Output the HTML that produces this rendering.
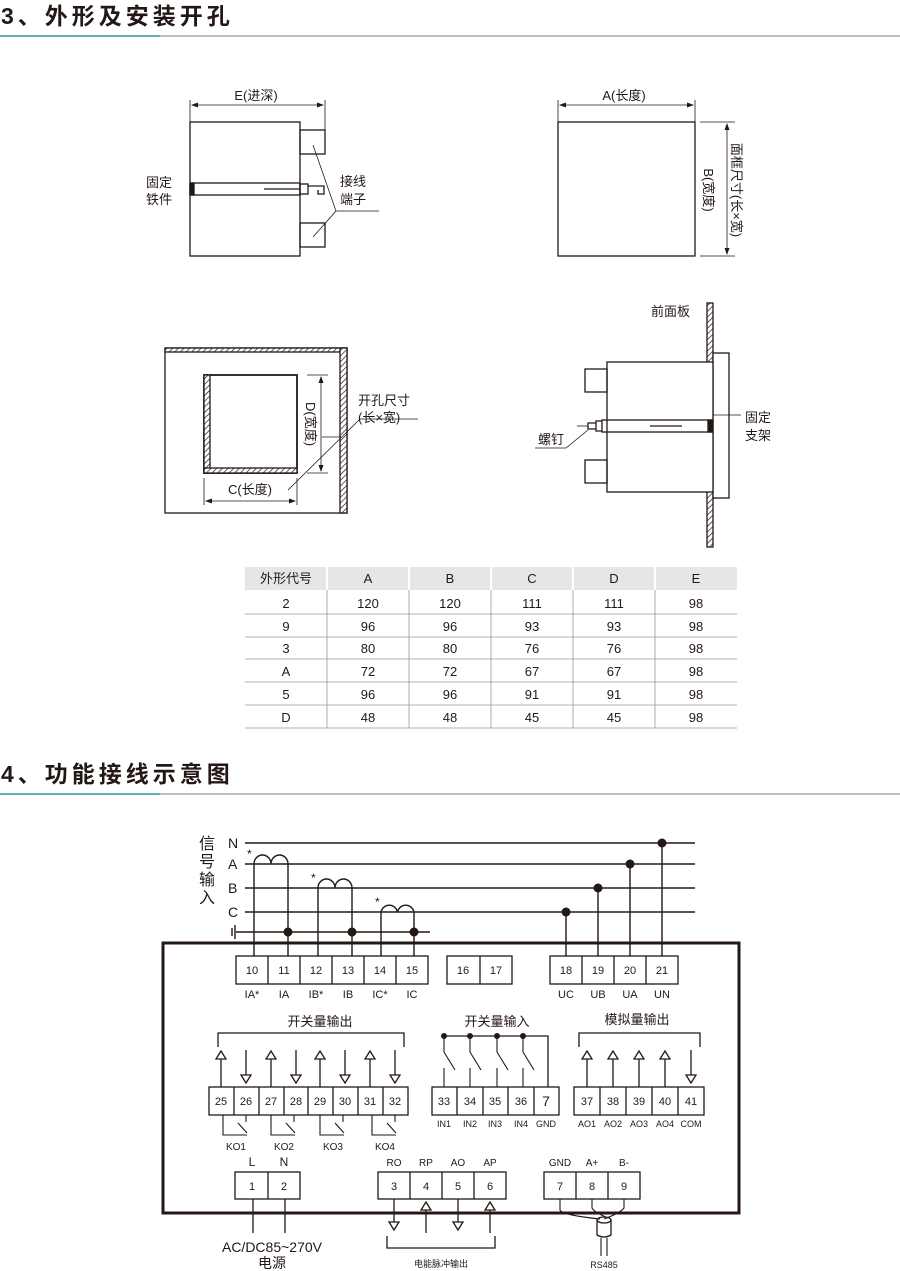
<!DOCTYPE html>
<html><head><meta charset="utf-8"><style>
html,body{margin:0;padding:0;background:#fff}
svg{display:block}
text{font-family:"Liberation Sans","Noto Sans CJK SC",sans-serif;fill:#231815}
</style></head><body>
<svg width="900" height="1271" viewBox="0 0 900 1271" xmlns="http://www.w3.org/2000/svg">
<defs>
<pattern id="h" width="4" height="4" patternUnits="userSpaceOnUse" patternTransform="rotate(45)"><rect width="4" height="4" fill="#fff"/><line x1="0" y1="0" x2="0" y2="4" stroke="#231815" stroke-width="1.4"/></pattern>
</defs>
<g stroke="#231815" fill="none" stroke-width="1.3">
<!-- headers -->
<text x="1" y="24" font-size="23" font-weight="bold" letter-spacing="4" stroke="none">3、外形及安装开孔</text>
<line x1="0" y1="36" x2="160" y2="36" stroke="#2a9a9a" stroke-width="1.5"/>
<line x1="160" y1="36" x2="900" y2="36" stroke="#999" stroke-width="1.2"/>
<text x="1" y="782" font-size="23" font-weight="bold" letter-spacing="4" stroke="none">4、功能接线示意图</text>
<line x1="0" y1="794" x2="160" y2="794" stroke="#2a9a9a" stroke-width="1.5"/>
<line x1="160" y1="794" x2="900" y2="794" stroke="#999" stroke-width="1.2"/>

<!-- top left -->
<rect x="190" y="122" width="110" height="134"/>
<rect x="300" y="130" width="25" height="24"/>
<rect x="300" y="223" width="25" height="24"/>
<rect x="190" y="183" width="110" height="12"/>
<rect x="190" y="183" width="4" height="12" fill="#231815"/>
<line x1="264" y1="189" x2="300" y2="189"/>
<rect x="300" y="184" width="8" height="10"/>
<path d="M308 186h16v8h-6v-4"/>
<line x1="190" y1="100" x2="190" y2="122" stroke-width="0.8"/>
<line x1="325" y1="100" x2="325" y2="130" stroke-width="0.8"/>
<line x1="192" y1="105" x2="323" y2="105" stroke-width="0.8"/>
<path d="M191 105l7-2.5v5z M324 105l-7-2.5v5z" fill="#231815" stroke="none"/>
<text x="256" y="100" font-size="13" text-anchor="middle" stroke="none">E(进深)</text>
<text x="146" y="187" font-size="13" stroke="none">固定</text>
<text x="146" y="204" font-size="13" stroke="none">铁件</text>
<text x="340" y="186" font-size="13" stroke="none">接线</text>
<text x="340" y="204" font-size="13" stroke="none">端子</text>
<path d="M313 145L336 211L313 237 M336 211H379" stroke-width="0.8"/>

<!-- top right -->
<rect x="558" y="122" width="137" height="134"/>
<line x1="558" y1="100" x2="558" y2="122" stroke-width="0.8"/>
<line x1="695" y1="100" x2="695" y2="122" stroke-width="0.8"/>
<line x1="560" y1="105" x2="693" y2="105" stroke-width="0.8"/>
<path d="M559 105l7-2.5v5z M694 105l-7-2.5v5z" fill="#231815" stroke="none"/>
<text x="624" y="100" font-size="13" text-anchor="middle" stroke="none">A(长度)</text>
<line x1="700" y1="122" x2="735" y2="122" stroke-width="0.8"/>
<line x1="700" y1="256" x2="735" y2="256" stroke-width="0.8"/>
<line x1="727" y1="124" x2="727" y2="254" stroke-width="0.8"/>
<path d="M727 123l-2.5 7h5z M727 255l-2.5-7h5z" fill="#231815" stroke="none"/>
<text transform="translate(704,190) rotate(90)" font-size="13" text-anchor="middle" stroke="none">B(宽度)</text>
<text transform="translate(732,190) rotate(90)" font-size="13" text-anchor="middle" stroke="none">面框尺寸(长×宽)</text>

<!-- middle left -->
<rect x="165" y="348" width="182" height="165"/>
<rect x="165" y="348" width="182" height="4" fill="url(#h)"/>
<rect x="340" y="348" width="7" height="165" fill="url(#h)"/>
<rect x="204" y="375" width="93" height="98" stroke-width="1.8"/>
<rect x="204" y="375" width="6" height="98" fill="url(#h)"/>
<rect x="204" y="468" width="93" height="5" fill="url(#h)"/>
<line x1="307" y1="375" x2="328" y2="375" stroke-width="0.8"/>
<line x1="307" y1="473" x2="328" y2="473" stroke-width="0.8"/>
<line x1="321" y1="377" x2="321" y2="471" stroke-width="0.8"/>
<path d="M321 376l-2.5 7h5z M321 472l-2.5-7h5z" fill="#231815" stroke="none"/>
<text transform="translate(306,424) rotate(90)" font-size="13" text-anchor="middle" stroke="none">D(宽度)</text>
<line x1="204" y1="478" x2="204" y2="505" stroke-width="0.8"/>
<line x1="297" y1="478" x2="297" y2="505" stroke-width="0.8"/>
<line x1="206" y1="501" x2="295" y2="501" stroke-width="0.8"/>
<path d="M205 501l7-2.5v5z M296 501l-7-2.5v5z" fill="#231815" stroke="none"/>
<text x="250" y="494" font-size="13" text-anchor="middle" stroke="none">C(长度)</text>
<path d="M288 490L360 419H418 M322 437H341" stroke-width="0.8"/>
<text x="358" y="405" font-size="13" stroke="none">开孔尺寸</text>
<text x="358" y="422" font-size="13" stroke="none">(长×宽)</text>

<!-- middle right -->
<rect x="707" y="303" width="6" height="244" fill="url(#h)"/>
<rect x="713" y="353" width="16" height="145" fill="#fff"/>
<rect x="607" y="362" width="106" height="130" fill="#fff"/>
<rect x="585" y="369" width="22" height="23"/>
<rect x="585" y="460" width="22" height="23"/>
<rect x="602" y="420" width="109" height="12"/>
<rect x="708" y="420" width="4" height="12" fill="#231815"/>
<line x1="650" y1="426" x2="682" y2="426"/>
<path d="M602 421h-6v10h6 M596 423h-8v6h8" />
<line x1="577" y1="426" x2="588" y2="426" stroke-width="0.8"/>
<line x1="713" y1="415" x2="741" y2="415" stroke-width="0.8"/>
<text x="745" y="422" font-size="13" stroke="none">固定</text>
<text x="745" y="440" font-size="13" stroke="none">支架</text>
<text x="538" y="444" font-size="13" stroke="none">螺钉</text>
<path d="M588 430L566 448H535" stroke-width="0.8"/>
<text x="651" y="316" font-size="13" stroke="none">前面板</text>

<!-- table -->
<rect x="245" y="567" width="492" height="23" fill="#e6e6e6" stroke="none"/>
<g stroke="#fff" stroke-width="2"><line x1="327" y1="567" x2="327" y2="590"/><line x1="409" y1="567" x2="409" y2="590"/><line x1="491" y1="567" x2="491" y2="590"/><line x1="573" y1="567" x2="573" y2="590"/><line x1="655" y1="567" x2="655" y2="590"/></g>
<g stroke="#999" stroke-width="0.8">
<line x1="327" y1="590" x2="327" y2="728"/><line x1="409" y1="590" x2="409" y2="728"/><line x1="491" y1="590" x2="491" y2="728"/><line x1="573" y1="590" x2="573" y2="728"/><line x1="655" y1="590" x2="655" y2="728"/>
<line x1="245" y1="614" x2="737" y2="614"/><line x1="245" y1="637" x2="737" y2="637"/><line x1="245" y1="659" x2="737" y2="659"/><line x1="245" y1="682" x2="737" y2="682"/><line x1="245" y1="705" x2="737" y2="705"/><line x1="245" y1="728" x2="737" y2="728"/>
</g>
<g font-size="13" text-anchor="middle" stroke="none">
<text x="286" y="583">外形代号</text><text x="368" y="583">A</text><text x="450" y="583">B</text><text x="532" y="583">C</text><text x="614" y="583">D</text><text x="696" y="583">E</text>
<text x="286" y="608">2</text><text x="368" y="608">120</text><text x="450" y="608">120</text><text x="532" y="608">111</text><text x="614" y="608">111</text><text x="696" y="608">98</text>
<text x="286" y="631">9</text><text x="368" y="631">96</text><text x="450" y="631">96</text><text x="532" y="631">93</text><text x="614" y="631">93</text><text x="696" y="631">98</text>
<text x="286" y="653">3</text><text x="368" y="653">80</text><text x="450" y="653">80</text><text x="532" y="653">76</text><text x="614" y="653">76</text><text x="696" y="653">98</text>
<text x="286" y="676">A</text><text x="368" y="676">72</text><text x="450" y="676">72</text><text x="532" y="676">67</text><text x="614" y="676">67</text><text x="696" y="676">98</text>
<text x="286" y="699">5</text><text x="368" y="699">96</text><text x="450" y="699">96</text><text x="532" y="699">91</text><text x="614" y="699">91</text><text x="696" y="699">98</text>
<text x="286" y="722">D</text><text x="368" y="722">48</text><text x="450" y="722">48</text><text x="532" y="722">45</text><text x="614" y="722">45</text><text x="696" y="722">98</text>
</g>

<!-- wiring: signal lines -->
<g stroke-width="1.6">
<line x1="245" y1="843" x2="695" y2="843"/>
<line x1="245" y1="864" x2="695" y2="864"/>
<line x1="245" y1="888" x2="695" y2="888"/>
<line x1="245" y1="912" x2="695" y2="912"/>
<line x1="236" y1="932" x2="430" y2="932"/>
</g>
<path d="M232 928v8 M235 925v14" stroke-width="1.4"/>
<g font-size="14" stroke="none">
<text x="228" y="848">N</text><text x="228" y="869">A</text><text x="228" y="893">B</text><text x="228" y="917">C</text>
<g font-size="16"><text x="199" y="849">信</text><text x="199" y="867">号</text><text x="199" y="885">输</text><text x="199" y="903">入</text></g>
<text x="247" y="858" font-size="12">*</text><text x="311" y="882" font-size="12">*</text><text x="375" y="906" font-size="12">*</text>
</g>
<!-- CTs -->
<path d="M254 956V864 M254 864 a8.5 9 0 0 1 17 0 a8.5 9 0 0 1 17 0V956" stroke-width="1.4"/>
<path d="M318 956V888 M318 888 a8.5 9 0 0 1 17 0 a8.5 9 0 0 1 17 0V956" stroke-width="1.4"/>
<path d="M381 956V912 M381 912 a8.5 9 0 0 1 16.5 0 a8.5 9 0 0 1 16.5 0V956" stroke-width="1.4"/>
<g fill="#231815" stroke="none">
<circle cx="288" cy="932" r="4.5"/><circle cx="352" cy="932" r="4.5"/><circle cx="414" cy="932" r="4.5"/>
<circle cx="566" cy="912" r="4.5"/><circle cx="598" cy="888" r="4.5"/><circle cx="630" cy="864" r="4.5"/><circle cx="662" cy="843" r="4.5"/>
</g>
<g stroke-width="1.4"><line x1="566" y1="912" x2="566" y2="956"/><line x1="598" y1="888" x2="598" y2="956"/><line x1="630" y1="864" x2="630" y2="956"/><line x1="662" y1="843" x2="662" y2="956"/></g>

<!-- main box -->
<rect x="163" y="943" width="576" height="270" stroke-width="3"/>
<!-- top terminals -->
<rect x="236" y="956" width="192" height="28"/>
<path d="M268 956v28 M300 956v28 M332 956v28 M364 956v28 M396 956v28"/>
<rect x="447" y="956" width="65" height="28"/><line x1="480" y1="956" x2="480" y2="984"/>
<rect x="550" y="956" width="128" height="28"/>
<path d="M582 956v28 M614 956v28 M646 956v28"/>
<g font-size="11" text-anchor="middle" stroke="none">
<text x="252" y="974">10</text><text x="284" y="974">11</text><text x="316" y="974">12</text><text x="348" y="974">13</text><text x="380" y="974">14</text><text x="412" y="974">15</text>
<text x="463" y="974">16</text><text x="496" y="974">17</text>
<text x="566" y="974">18</text><text x="598" y="974">19</text><text x="630" y="974">20</text><text x="662" y="974">21</text>
<text x="252" y="998">IA*</text><text x="284" y="998">IA</text><text x="316" y="998">IB*</text><text x="348" y="998">IB</text><text x="380" y="998">IC*</text><text x="412" y="998">IC</text>
<text x="566" y="998">UC</text><text x="598" y="998">UB</text><text x="630" y="998">UA</text><text x="662" y="998">UN</text>
</g>

<!-- switch outputs -->
<text x="320" y="1026" font-size="13" text-anchor="middle" stroke="none">开关量输出</text>
<path d="M218 1047V1033H404V1047"/>
<rect x="209" y="1087" width="199" height="28"/>
<path d="M234 1087v28 M259 1087v28 M284 1087v28 M308 1087v28 M333 1087v28 M358 1087v28 M383 1087v28"/>
<g font-size="11" text-anchor="middle" stroke="none">
<text x="221" y="1105">25</text><text x="246" y="1105">26</text><text x="271" y="1105">27</text><text x="296" y="1105">28</text><text x="320" y="1105">29</text><text x="345" y="1105">30</text><text x="370" y="1105">31</text><text x="395" y="1105">32</text>
</g>
<g>
<path d="M221 1087V1059 M216 1059l5-8 5 8z"/>
<path d="M271 1087V1059 M266 1059l5-8 5 8z"/>
<path d="M320 1087V1059 M315 1059l5-8 5 8z"/>
<path d="M370 1087V1059 M365 1059l5-8 5 8z"/>
<path d="M246 1050V1075 M241 1075l5 8 5-8z"/>
<path d="M296 1050V1075 M291 1075l5 8 5-8z"/>
<path d="M345 1050V1075 M340 1075l5 8 5-8z"/>
<path d="M395 1050V1075 M390 1075l5 8 5-8z"/>
</g>
<g stroke-width="1.1">
<path d="M223 1115V1135H247 M238 1123L247 1133 M246 1115V1122"/>
<path d="M271 1115V1135H295 M286 1123L295 1133 M294 1115V1122"/>
<path d="M320 1115V1135H344 M335 1123L344 1133 M343 1115V1122"/>
<path d="M372 1115V1135H396 M387 1123L396 1133 M395 1115V1122"/>
</g>
<g font-size="10" text-anchor="middle" stroke="none">
<text x="236" y="1150">KO1</text><text x="284" y="1150">KO2</text><text x="333" y="1150">KO3</text><text x="385" y="1150">KO4</text>
</g>

<!-- switch inputs -->
<text x="497" y="1026" font-size="13" text-anchor="middle" stroke="none">开关量输入</text>
<path d="M444 1036H548V1087"/>
<g fill="#231815" stroke="none"><circle cx="444" cy="1036" r="3"/><circle cx="470" cy="1036" r="3"/><circle cx="497" cy="1036" r="3"/><circle cx="523" cy="1036" r="3"/></g>
<path d="M444 1036V1052L455 1070 M444 1068V1087 M470 1036V1052L481 1070 M470 1068V1087 M497 1036V1052L508 1070 M497 1068V1087 M523 1036V1052L534 1070 M523 1068V1087" stroke-width="1.1"/>
<rect x="432" y="1087" width="127" height="28"/>
<path d="M457 1087v28 M483 1087v28 M508 1087v28 M534 1087v28"/>
<g font-size="11" text-anchor="middle" stroke="none">
<text x="444" y="1105">33</text><text x="470" y="1105">34</text><text x="495" y="1105">35</text><text x="521" y="1105">36</text><text x="546" y="1106" font-size="14">7</text>
<g font-size="9"><text x="444" y="1127">IN1</text><text x="470" y="1127">IN2</text><text x="495" y="1127">IN3</text><text x="521" y="1127">IN4</text><text x="546" y="1127">GND</text></g>
</g>

<!-- analog outputs -->
<text x="637" y="1024" font-size="13" text-anchor="middle" stroke="none">模拟量输出</text>
<path d="M579 1047V1033H700V1047"/>
<rect x="574" y="1087" width="130" height="28"/>
<path d="M600 1087v28 M626 1087v28 M652 1087v28 M678 1087v28"/>
<path d="M587 1087V1059 M582 1059l5-8 5 8z M613 1087V1059 M608 1059l5-8 5 8z M639 1087V1059 M634 1059l5-8 5 8z M665 1087V1059 M660 1059l5-8 5 8z M691 1050V1075 M686 1075l5 8 5-8z"/>
<g font-size="11" text-anchor="middle" stroke="none">
<text x="587" y="1105">37</text><text x="613" y="1105">38</text><text x="639" y="1105">39</text><text x="665" y="1105">40</text><text x="691" y="1105">41</text>
<g font-size="9"><text x="587" y="1127">AO1</text><text x="613" y="1127">AO2</text><text x="639" y="1127">AO3</text><text x="665" y="1127">AO4</text><text x="691" y="1127">COM</text></g>
</g>

<!-- bottom row -->
<rect x="235" y="1172" width="65" height="27"/><line x1="268" y1="1172" x2="268" y2="1199"/>
<path d="M253 1199V1233 M285 1199V1233"/>
<g font-size="11" text-anchor="middle" stroke="none">
<text x="252" y="1190">1</text><text x="284" y="1190">2</text>
<text x="252" y="1166" font-size="12">L</text><text x="284" y="1166" font-size="12">N</text>
</g>
<text x="272" y="1252" font-size="14" text-anchor="middle" stroke="none">AC/DC85~270V</text>
<text x="272" y="1268" font-size="14" text-anchor="middle" stroke="none">电源</text>

<rect x="378" y="1172" width="128" height="27"/>
<path d="M410 1172v27 M442 1172v27 M474 1172v27"/>
<g font-size="11" text-anchor="middle" stroke="none">
<text x="394" y="1190">3</text><text x="426" y="1190">4</text><text x="458" y="1190">5</text><text x="490" y="1190">6</text>
<text x="394" y="1166" font-size="10">RO</text><text x="426" y="1166" font-size="10">RP</text><text x="458" y="1166" font-size="10">AO</text><text x="490" y="1166" font-size="10">AP</text>
</g>
<path d="M394 1199V1222 M389 1222l5 8 5-8z M426 1233V1210 M421 1210l5-8 5 8z M458 1199V1222 M453 1222l5 8 5-8z M490 1233V1210 M485 1210l5-8 5 8z"/>
<path d="M387 1236V1248H495V1236"/>
<text x="441" y="1267" font-size="9" text-anchor="middle" stroke="none">电能脉冲输出</text>

<rect x="544" y="1172" width="96" height="27"/>
<path d="M576 1172v27 M608 1172v27"/>
<g font-size="11" text-anchor="middle" stroke="none">
<text x="560" y="1190">7</text><text x="592" y="1190">8</text><text x="624" y="1190">9</text>
<text x="560" y="1166" font-size="10">GND</text><text x="592" y="1166" font-size="10">A+</text><text x="624" y="1166" font-size="10">B-</text>
</g>
<path d="M560 1199V1210Q562 1215 600 1219 M592 1199V1208Q594 1212 608 1218 M624 1199V1208Q620 1213 604 1219" stroke-width="1.1"/>
<ellipse cx="604" cy="1220" rx="7" ry="3"/>
<path d="M597 1220V1235Q604 1239 611 1235V1220"/>
<path d="M601 1238V1256 M607 1238V1256" stroke-width="1.1"/>
<text x="604" y="1268" font-size="9" text-anchor="middle" stroke="none">RS485</text>
</g>
</svg>
</body></html>
